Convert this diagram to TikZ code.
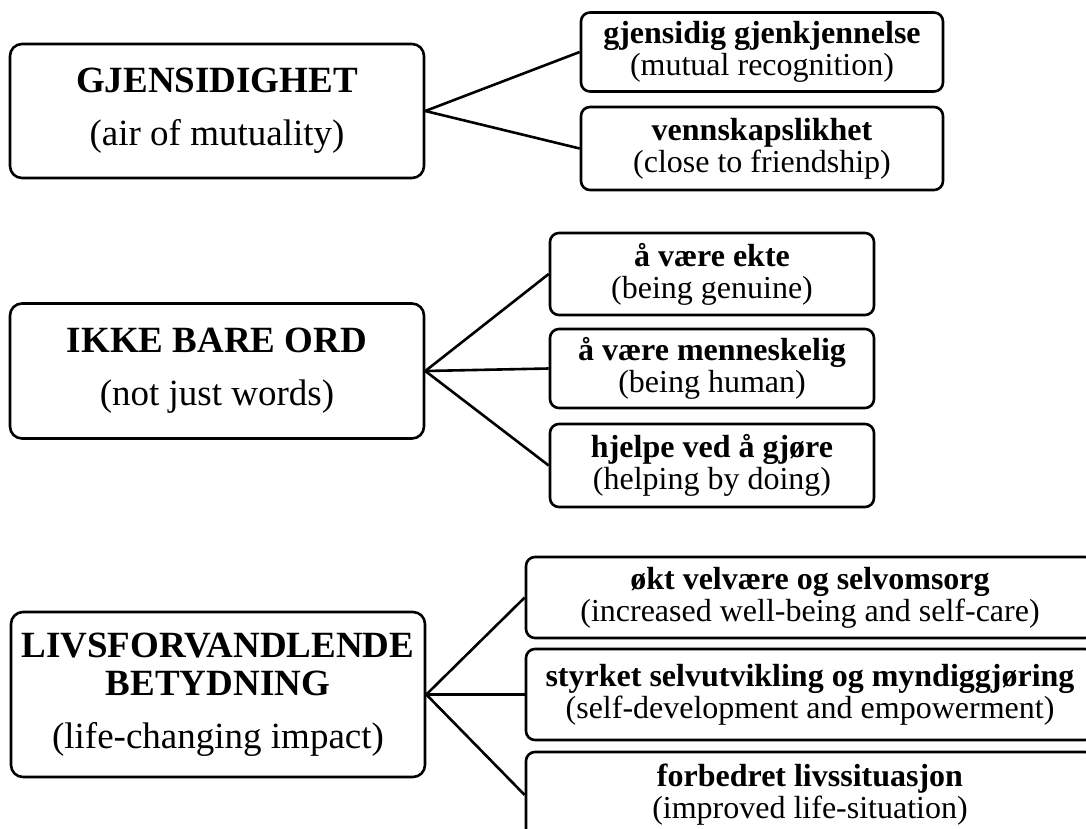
\documentclass[tikz,border=0pt]{standalone}
\usepackage{fontspec}
\setmainfont{Liberation Serif}
\tikzset{
  theme box/.style={draw, line width=2.6pt, rounded corners=12pt, minimum width=414pt,
    align=center, inner sep=0pt, font=\fontsize{37}{53}\selectfont},
  sub box/.style={draw, line width=2.6pt, rounded corners=9pt, align=center, inner sep=0pt,
    font=\fontsize{32}{32}\selectfont},
  link/.style={line width=2.6pt}
}
\begin{document}
\begin{tikzpicture}[x=1pt, y=-1pt]
  \clip (0,0) rectangle (1086,829);
  \path[use as bounding box] (0,0) rectangle (1086,829);
  % first theme
  \node[theme box, minimum height=134pt] (gjens) at (217,111)
    {\textbf{GJENSIDIGHET}\\(air of mutuality)};
  \node[sub box, minimum width=362pt, minimum height=79pt] (recog) at (762,52)
    {\textbf{gjensidig gjenkjennelse}\\(mutual recognition)};
  \node[sub box, minimum width=362pt, minimum height=83pt] (friend) at (762,148.5)
    {\textbf{vennskapslikhet}\\(close to friendship)};
  \draw[link] (gjens.east) -- (recog.west);
  \draw[link] (gjens.east) -- (friend.west);
  % second theme
  \node[theme box, minimum height=135pt] (ikke) at (217,371)
    {\textbf{IKKE BARE ORD}\\(not just words)};
  \node[sub box, minimum width=324pt, minimum height=82pt] (genuine) at (712,274)
    {\textbf{å være ekte}\\(being genuine)};
  \node[sub box, minimum width=324pt, minimum height=79pt] (human) at (712,368.5)
    {\textbf{å være menneskelig}\\(being human)};
  \node[sub box, minimum width=324pt, minimum height=83pt] (doing) at (712,465.5)
    {\textbf{hjelpe ved å gjøre}\\(helping by doing)};
  \draw[link] (ikke.east) -- (genuine.west);
  \draw[link] (ikke.east) -- (human.west);
  \draw[link] (ikke.east) -- (doing.west);
  % third theme
  \node[theme box, minimum height=165pt, font=\fontsize{37}{38}\selectfont] (livs) at (218,694.5)
    {\textbf{LIVSFORVANDLENDE}\\\textbf{BETYDNING}\\[15pt](life-changing impact)};
  \node[sub box, minimum width=568pt, minimum height=81pt] (selfcare) at (810,597.5)
    {\textbf{økt velvære og selvomsorg}\\(increased well-being and self-care)};
  \node[sub box, minimum width=568pt, minimum height=91pt] (empower) at (810,694.5)
    {\textbf{styrket selvutvikling og myndiggjøring}\\(self-development and empowerment)};
  \node[sub box, minimum width=568pt, minimum height=86pt] (lifesit) at (810,795)
    {\textbf{forbedret livssituasjon}\\(improved life-situation)};
  \draw[link] (livs.east) -- (selfcare.west);
  \draw[link] (livs.east) -- (empower.west);
  \draw[link] (livs.east) -- (lifesit.west);
\end{tikzpicture}
\end{document}
